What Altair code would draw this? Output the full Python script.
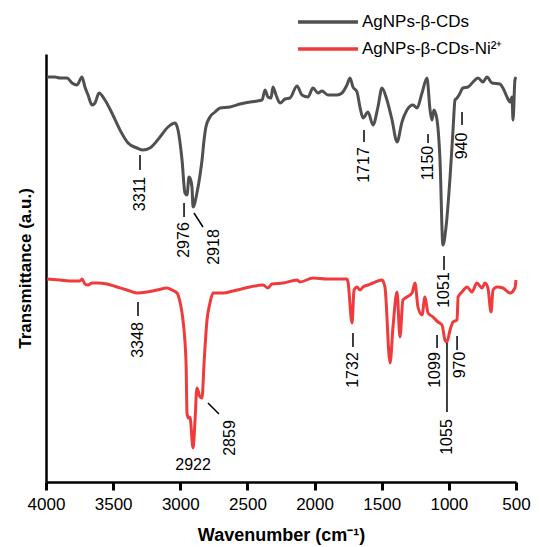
import altair as alt
import pandas as pd

# ---- spectra (wavenumber, transmittance a.u.) ----
black_wn = [3993, 3933, 3896, 3844, 3806, 3769, 3732, 3710, 3687, 3657, 3635, 3605, 3561, 3509, 3449, 3389,
            3322, 3278, 3226, 3151, 3091, 3039, 3017, 2987, 2965, 2950, 2935, 2928, 2913, 2905, 2876, 2853,
            2838, 2823, 2809, 2779, 2741, 2704, 2630, 2555, 2481, 2391, 2369, 2347, 2324, 2310, 2287, 2257,
            2220, 2183, 2131, 2094, 2049, 2012, 1974, 1945, 1900, 1833, 1796, 1759, 1736, 1714, 1684, 1662,
            1639, 1602, 1565, 1528, 1498, 1461, 1423, 1386, 1349, 1312, 1267, 1237, 1200, 1163, 1140, 1126,
            1111, 1088, 1066, 1044, 1021, 991, 969, 954, 939, 924, 895, 857, 820, 783, 746, 716, 679, 619,
            597, 567, 545, 530, 522, 508, 500]
black_t = [405, 405, 404, 404, 399, 397, 405, 395, 387, 377, 379, 389, 382, 369, 352, 339,
           334, 332, 334, 345, 355, 359, 352, 322, 289, 287, 305, 304, 295, 275, 289, 307,
           322, 342, 355, 365, 370, 374, 375, 378, 380, 382, 392, 385, 384, 395, 387, 379,
           383, 384, 396, 387, 385, 394, 389, 391, 387, 387, 389, 397, 404, 395, 390, 375,
           364, 370, 357, 375, 394, 382, 362, 340, 360, 372, 377, 374, 389, 404, 372, 362,
           372, 362, 322, 237, 255, 305, 352, 382, 384, 387, 394, 395, 400, 404, 400, 405, 399, 398,
           394, 385, 380, 385, 362, 402, 405]

red_wn = [3993, 3896, 3799, 3747, 3732, 3710, 3687, 3657, 3613, 3546, 3471, 3397, 3322, 3248, 3173, 3099,
          3062, 3024, 3002, 2980, 2957, 2950, 2940, 2928, 2905, 2890, 2876, 2853, 2838, 2823, 2801, 2779,
          2756, 2682, 2607, 2481, 2384, 2347, 2317, 2235, 2131, 2109, 2012, 1907, 1759, 1751, 1721, 1706,
          1684, 1662, 1639, 1602, 1565, 1498, 1476, 1438, 1416, 1386, 1364, 1342, 1312, 1274, 1252, 1230,
          1200, 1178, 1155, 1118, 1081, 1051, 1029, 1014, 991, 969, 939, 931, 902, 865, 828, 791, 753,
          731, 709, 686, 671, 641, 597, 545, 508, 500]
red_t = [203, 202, 201, 201, 203, 198, 197, 199, 199, 198, 195, 192, 189, 190, 192, 194,
         192, 189, 180, 162, 119, 69, 64, 65, 34, 62, 94, 85, 84, 119, 162, 179,
         189, 189, 191, 195, 197, 194, 198, 199, 202, 200, 204, 203, 203, 200, 159, 192,
         195, 192, 195, 197, 199, 202, 195, 119, 155, 190, 145, 182, 185, 189, 199, 175,
         167, 185, 169, 165, 160, 157, 142, 140, 152, 160, 162, 185, 190, 195, 190, 199, 194,
         199, 194, 170, 192, 195, 194, 189, 194, 202]

series_names = ["AgNPs-\u03b2-CDs", "AgNPs-\u03b2-CDs-Ni\u00b2\u207a"]
series_colors = ["#505050", "#ef3b3b"]

# ---- peak annotations ----
rot_text = ["3311", "2976", "2918", "1717", "1150", "1051", "940",
            "3348", "2859", "1732", "1099", "970", "1055"]
rot_x = [3300, 2972, 2749, 1632, 1155, 1036, 902,
         3315, 2630, 1714, 1103, 917, 1014]
rot_y = [288, 242, 235, 317, 319, 192, 336,
         142, 44, 112, 112, 117, 45]

hor_text = ["2922"]
hor_x = [2905]
hor_y = [17]

tick_x1 = [3300, 2972, 2898, 1632, 1155, 1036, 902, 3315, 2794, 1714, 1088, 939, 1014]
tick_y1 = [327, 279, 269, 352, 348, 226, 370, 180, 79, 149, 147, 146, 139]
tick_x2 = [3300, 2972, 2831, 1632, 1155, 1036, 902, 3315, 2712, 1714, 1088, 939, 1014]
tick_y2 = [312, 265, 255, 340, 339, 212, 357, 166, 68, 135, 134, 132, 70]

x_ticks = [4000, 3750, 3500, 3250, 3000, 2750, 2500, 2250, 2000, 1750, 1500, 1250, 1000, 750, 500]

black_df = pd.DataFrame({"wn": black_wn, "t": black_t, "series": series_names[0],
                         "order": list(range(len(black_wn)))})
red_df = pd.DataFrame({"wn": red_wn, "t": red_t, "series": series_names[1],
                       "order": list(range(len(red_wn)))})
rot_df = pd.DataFrame({"x": rot_x, "y": rot_y, "label": rot_text})
hor_df = pd.DataFrame({"x": hor_x, "y": hor_y, "label": hor_text})
tick_df = pd.DataFrame({"x": tick_x1, "y": tick_y1, "x2": tick_x2, "y2": tick_y2})

xscale = alt.Scale(domain=[500, 4000], reverse=True, nice=False, zero=False)
yscale = alt.Scale(domain=[0, 428], nice=False, zero=False)

FONT = "Liberation Sans"

xaxis = alt.Axis(
    title="Wavenumber (cm\u207b\u00b9)",
    values=x_ticks,
    labelExpr="datum.value % 500 === 0 ? datum.label : ''",
    format="d",
    tickSize={"condition": {"test": "datum.value % 500 === 0", "value": 8}, "value": 5},
    labelFontSize=17, labelPadding=6, labelColor="black", labelFont=FONT,
    titleFontSize=18, titleFontWeight="bold", titleColor="black", titleFont=FONT,
    titlePadding=14, domainColor="black", domainWidth=2.5,
    tickColor="black", tickWidth=3, grid=False, labelFlush=False,
)
yaxis = alt.Axis(
    title="Transmittance (a.u.)", ticks=False, labels=False,
    titleFontSize=17, titleFontWeight="bold", titleColor="black", titleFont=FONT,
    titlePadding=12, domainColor="black", domainWidth=2.5, grid=False,
)


def spectrum(df, idx, legend_y):
    return alt.Chart(df).mark_line(strokeWidth=3, interpolate="monotone").encode(
        x=alt.X("wn:Q", scale=xscale, axis=xaxis),
        y=alt.Y("t:Q", scale=yscale, axis=yaxis),
        color=alt.Color(
            "series:N",
            scale=alt.Scale(domain=[series_names[idx]], range=[series_colors[idx]]),
            legend=alt.Legend(
                title=None, orient="none", legendX=250, legendY=legend_y,
                symbolType="stroke", symbolSize=3600, symbolStrokeWidth=3.5,
                labelFontSize=17, labelFont=FONT, labelColor="black",
                labelOffset=2, labelLimit=300,
            ),
        ),
        order="order:Q",
    )


black_line = spectrum(black_df, 0, -64)
red_line = spectrum(red_df, 1, -37)

ticks = alt.Chart(tick_df).mark_rule(color="black", strokeWidth=1.5).encode(
    x=alt.X("x:Q", scale=xscale), y=alt.Y("y:Q", scale=yscale),
    x2="x2:Q", y2="y2:Q",
)

rot_labels = alt.Chart(rot_df).mark_text(
    angle=270, align="center", baseline="middle", fontSize=16, font=FONT, color="black"
).encode(x=alt.X("x:Q", scale=xscale), y=alt.Y("y:Q", scale=yscale), text="label:N")

hor_labels = alt.Chart(hor_df).mark_text(
    align="center", baseline="middle", fontSize=16, font=FONT, color="black"
).encode(x=alt.X("x:Q", scale=xscale), y=alt.Y("y:Q", scale=yscale), text="label:N")

chart = (
    alt.layer(black_line, red_line, ticks, rot_labels, hor_labels)
    .resolve_scale(color="independent")
    .properties(
        width=470, height=428,
        autosize=alt.AutoSizeParams(type="none"),
        padding={"left": 38, "top": 46, "right": 16, "bottom": 65},
        background="white",
    )
    .configure_view(stroke=None)
)

chart.save("out.html", embed_options={"renderer": "svg", "actions": False})
